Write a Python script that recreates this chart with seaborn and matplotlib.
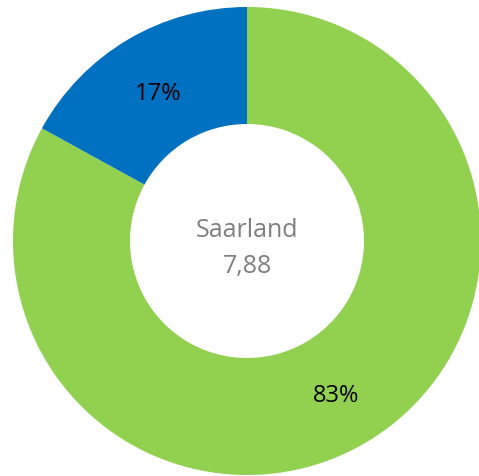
import matplotlib
matplotlib.use("Agg")
import matplotlib.pyplot as plt
import seaborn as sns

categories = ["Anteil A", "Anteil B"]
values = [83, 17]
colors = ["#92D050", "#0070C0"]
center_title = "Saarland"
center_value = "7,88"

sns.set_theme(style="white")
plt.rcParams['font.family'] = ['Open Sans', 'DejaVu Sans']

W, H = 479, 477
fig = plt.figure(figsize=(W / 100, H / 100), dpi=100)
cx, cy, r = 247, 242, 234
ax = fig.add_axes([(cx - r) / W, (H - cy - r) / H, 2 * r / W, 2 * r / H])

wedges, texts, autotexts = ax.pie(
    values, colors=colors, startangle=90, counterclock=False,
    radius=1, wedgeprops=dict(width=0.5, edgecolor="none"),
    autopct="%.0f%%", pctdistance=0.75,
    textprops=dict(fontsize=17, color="black"))
for w in wedges:
    w.set_clip_on(False)
for t in autotexts:
    t.set_va("center_baseline")
ax.set_xlim(-1, 1)
ax.set_ylim(-1, 1)
ax.set_aspect("equal")
ax.axis("off")

ax.text(0, 0.021, center_title, ha="center", va="baseline", fontsize=18, color="#7F7F7F")
ax.text(0, -0.132, center_value, ha="center", va="baseline", fontsize=18, color="#7F7F7F")

fig.savefig("out.png", dpi=100)
